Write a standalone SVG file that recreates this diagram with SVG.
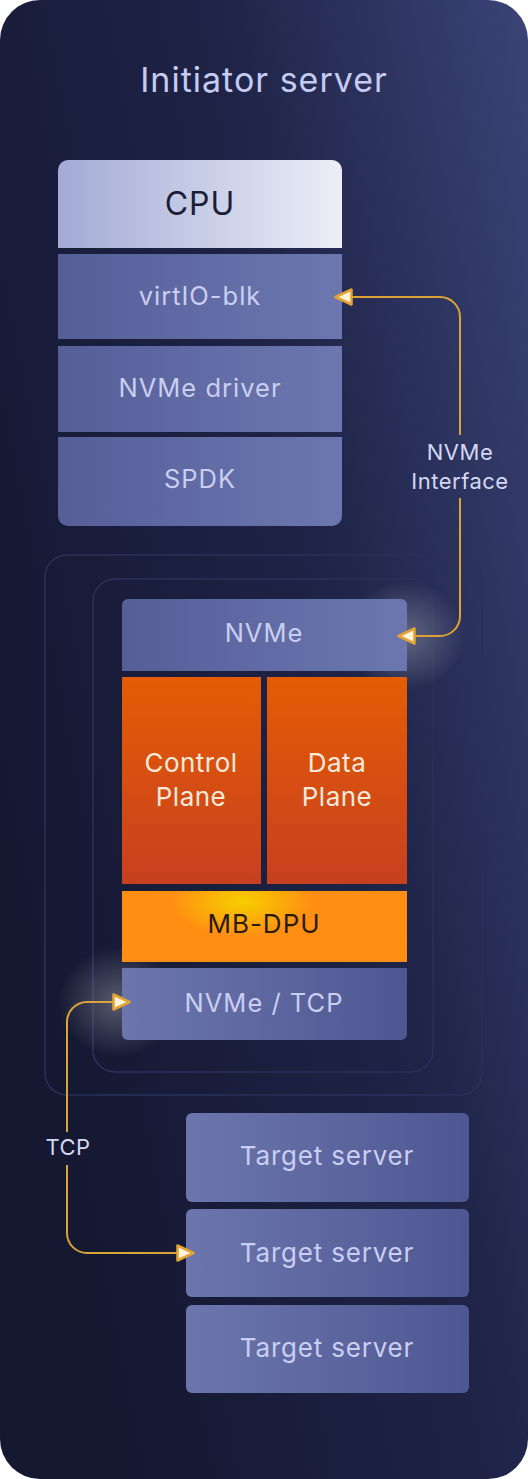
<svg xmlns="http://www.w3.org/2000/svg" width="528" height="1479" viewBox="0 0 528 1479">
<defs>
<linearGradient id="bg" x1="1" y1="0" x2="0" y2="0.55">
<stop offset="0" stop-color="#3b4477"/>
<stop offset="0.45" stop-color="#1f2448"/>
<stop offset="1" stop-color="#141831"/>
</linearGradient>
<linearGradient id="cpu" x1="0" y1="0" x2="1" y2="0">
<stop offset="0" stop-color="#a3abd6"/>
<stop offset="1" stop-color="#eceef7"/>
</linearGradient>
<linearGradient id="blue" x1="0" y1="0" x2="1" y2="0">
<stop offset="0" stop-color="#6c76ad"/>
<stop offset="1" stop-color="#4f5792"/>
</linearGradient>
<linearGradient id="blue2" x1="0" y1="0" x2="1" y2="0">
<stop offset="0" stop-color="#565e98"/>
<stop offset="1" stop-color="#6c77b0"/>
</linearGradient>
<linearGradient id="orange" x1="0" y1="0" x2="0" y2="1">
<stop offset="0" stop-color="#e55c05"/>
<stop offset="1" stop-color="#c7401f"/>
</linearGradient>
<radialGradient id="dpu" cx="0.42" cy="0.15" r="0.5" gradientTransform="translate(0.21,0) scale(0.5,1)">
<stop offset="0" stop-color="#f6cf00"/>
<stop offset="1" stop-color="#ff8e12"/>
</radialGradient>
<radialGradient id="glow">
<stop offset="0" stop-color="#ffffff" stop-opacity="0.28"/>
<stop offset="1" stop-color="#ffffff" stop-opacity="0"/>
</radialGradient>
<marker id="ah" viewBox="0 0 20 20" refX="2" refY="10" markerWidth="20" markerHeight="20" markerUnits="userSpaceOnUse" orient="auto">
<path d="M2.5,2.5 L18.5,10 L2.5,17.5 Z" fill="#fff4d8" stroke="#e3a233" stroke-width="2.5" stroke-linejoin="round"/>
</marker>
<style>
.t{font-family:Inter,"Noto Sans","Liberation Sans",sans-serif;text-anchor:middle}
.lt{fill:#c9cef2;font-size:25.5px;letter-spacing:1px}
.frame{fill:none;stroke:#2b315a;stroke-width:1.5}
.conn{fill:none;stroke:#dba235;stroke-width:2}
.lbl{fill:#d4d8f4;font-size:22px;letter-spacing:0.5px}
.ts{fill:#c9cef2;font-size:26px;letter-spacing:0.8px}
.pl{fill:#f8eadb;font-size:26px;letter-spacing:0.5px}
</style>
</defs>
<rect x="0" y="0" width="528" height="1479" fill="#ffffff"/>
<rect x="0" y="0" width="528" height="1479" rx="40" fill="url(#bg)"/>
<text class="t" x="264" y="92" fill="#c5cbf0" font-size="34" letter-spacing="1">Initiator server</text>

<g id="frames">
<rect class="frame" x="45" y="555" width="437" height="540" rx="22" fill="#181c38" fill-opacity="0.5"/>
<rect class="frame" x="93" y="579" width="340" height="493" rx="22" fill="#161a34" fill-opacity="0.5"/>
</g>

<ellipse cx="405" cy="636" rx="60" ry="55" fill="url(#glow)"/>
<ellipse cx="118" cy="1002" rx="60" ry="55" fill="url(#glow)"/>

<g id="cpu-node">
<path d="M58,248 V170 a10,10 0 0 1 10,-10 H332 a10,10 0 0 1 10,10 V248 Z" fill="url(#cpu)"/>
<text class="t" x="200" y="215" fill="#1b1e36" font-size="32" letter-spacing="1">CPU</text>
</g>
<g id="virtio-blk">
<rect x="58" y="254" width="284" height="85" fill="url(#blue2)"/>
<text class="t lt" x="200" y="305">virtIO-blk</text>
</g>
<g id="nvme-driver">
<rect x="58" y="346" width="284" height="86" fill="url(#blue2)"/>
<text class="t lt" x="200" y="397">NVMe driver</text>
</g>
<g id="spdk">
<path d="M58,437 H342 V516 a10,10 0 0 1 -10,10 H68 a10,10 0 0 1 -10,-10 Z" fill="url(#blue2)"/>
<text class="t lt" x="200" y="488">SPDK</text>
</g>

<g id="nvme">
<path d="M122,671 V605 a6,6 0 0 1 6,-6 H401 a6,6 0 0 1 6,6 V671 Z" fill="url(#blue2)"/>
<text class="t lt" x="264" y="642">NVMe</text>
</g>
<g id="control-plane">
<rect x="122" y="677" width="139" height="207" fill="url(#orange)"/>
<text class="t pl" x="191" y="772">Control</text>
<text class="t pl" x="191" y="806">Plane</text>
</g>
<g id="data-plane">
<rect x="267" y="677" width="140" height="207" fill="url(#orange)"/>
<text class="t pl" x="337" y="772">Data</text>
<text class="t pl" x="337" y="806">Plane</text>
</g>
<g id="mb-dpu">
<rect x="122" y="891" width="285" height="71" fill="url(#dpu)"/>
<text class="t" x="264" y="933" fill="#2a1a10" font-size="26" letter-spacing="1">MB-DPU</text>
</g>
<g id="nvme-tcp">
<path d="M122,968 H407 V1034 a6,6 0 0 1 -6,6 H128 a6,6 0 0 1 -6,-6 Z" fill="url(#blue)"/>
<text class="t lt" x="264" y="1012">NVMe / TCP</text>
</g>

<g id="target-1">
<rect x="186" y="1113" width="283" height="89" rx="6" fill="url(#blue)"/>
<text class="t ts" x="327" y="1165">Target server</text>
</g>
<g id="target-2">
<rect x="186" y="1209" width="283" height="88" rx="6" fill="url(#blue)"/>
<text class="t ts" x="327" y="1262">Target server</text>
</g>
<g id="target-3">
<rect x="186" y="1305" width="283" height="88" rx="6" fill="url(#blue)"/>
<text class="t ts" x="327" y="1357">Target server</text>
</g>

<g id="connectors">
<path class="conn" d="M460,435 V317 a20,20 0 0 0 -20,-20 H352" marker-end="url(#ah)"/>
<path class="conn" d="M460,498 V616 a20,20 0 0 1 -20,20 H415" marker-end="url(#ah)"/>
<text class="t lbl" x="460" y="460">NVMe</text>
<text class="t lbl" x="460" y="489">Interface</text>
<path class="conn" d="M67,1132 V1022 a20,20 0 0 1 20,-20 H113" marker-end="url(#ah)"/>
<path class="conn" d="M67,1165 V1233 a20,20 0 0 0 20,20 H177" marker-end="url(#ah)"/>
<text class="t lbl" x="68" y="1155">TCP</text>
</g>
</svg>
